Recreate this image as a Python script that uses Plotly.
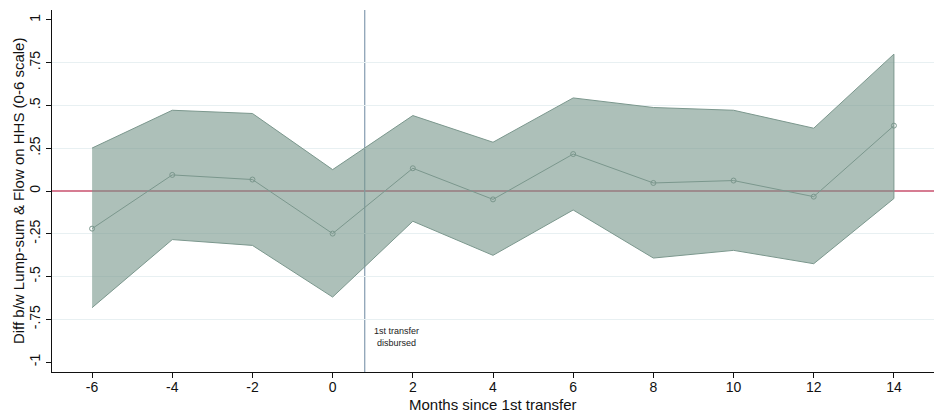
import plotly.graph_objects as go

months = [-6, -4, -2, 0, 2, 4, 6, 8, 10, 12, 14]
estimate = [-0.22, 0.094, 0.067, -0.249, 0.133, -0.049, 0.216, 0.047, 0.061, -0.033, 0.382]
upper = [0.251, 0.472, 0.453, 0.125, 0.441, 0.285, 0.544, 0.488, 0.472, 0.367, 0.80]
lower = [-0.682, -0.284, -0.318, -0.62, -0.177, -0.376, -0.111, -0.392, -0.347, -0.425, -0.044]

x_ticks = [-6, -4, -2, 0, 2, 4, 6, 8, 10, 12, 14]
y_ticks = [-1, -0.75, -0.5, -0.25, 0, 0.25, 0.5, 0.75, 1]
y_tick_labels = ["-1", "-.75", "-.5", "-.25", "0", ".25", ".5", ".75", "1"]
grid_vals = [-0.75, -0.5, -0.25, 0.25, 0.5, 0.75]
transfer_month = 0.8
annot_text = "1st transfer<br>disbursed"
annot_pos = (1.6, -0.855)
x_title = "Months since 1st transfer"
y_title = "Diff b/w Lump-sum & Flow on HHS (0-6 scale)"

FONT = "Liberation Sans, Arial, Helvetica, sans-serif"
edge = "#7b978d"

fig = go.Figure()

fig.add_trace(go.Scatter(
    x=months + months[::-1],
    y=upper + lower[::-1],
    fill="toself",
    fillcolor="rgba(118,150,138,0.60)",
    line=dict(color=edge, width=1),
    mode="lines",
    hoverinfo="skip",
    showlegend=False,
))

fig.add_trace(go.Scatter(
    x=months, y=estimate,
    mode="lines+markers",
    line=dict(color=edge, width=1),
    marker=dict(symbol="circle-open", size=5, color=edge, line=dict(width=1)),
    showlegend=False,
))

fig.add_trace(go.Scatter(x=[months[0]], y=[0], yaxis="y2", mode="markers",
                         marker=dict(opacity=0), showlegend=False, hoverinfo="skip"))

fig.add_shape(type="line", xref="paper", x0=0, x1=1, yref="y", y0=0, y1=0,
              line=dict(color="#c8506e", width=1.6), layer="below")
fig.add_shape(type="line", xref="x", x0=transfer_month, x1=transfer_month,
              yref="paper", y0=0, y1=1,
              line=dict(color="#8ea3b6", width=1.3), layer="below")

fig.add_annotation(x=annot_pos[0], y=annot_pos[1], text=annot_text, showarrow=False,
                   font=dict(family=FONT, size=9, color="#222222"), align="center")

fig.add_annotation(xref="paper", yref="paper", x=0.5, y=-0.091, text=x_title,
                   showarrow=False, xanchor="center", yanchor="middle",
                   font=dict(family=FONT, size=15, color="#111111"))
fig.add_annotation(xref="paper", yref="paper", x=-0.0385, y=0.5, text=y_title,
                   showarrow=False, xanchor="center", yanchor="middle", textangle=-90,
                   font=dict(family=FONT, size=15, color="#111111"))

yr = [-1.058, 1.058]
fig.update_layout(
    width=934, height=412,
    margin=dict(l=52, r=0, t=10, b=40),
    paper_bgcolor="white", plot_bgcolor="white",
    font=dict(family=FONT, size=14, color="#111111"),
    xaxis=dict(
        range=[-7, 15], tickvals=x_ticks, ticktext=[str(v) for v in x_ticks],
        showgrid=False, zeroline=False, automargin=False,
        showline=True, linecolor="#111111", linewidth=1.2,
        ticks="outside", ticklen=5, tickcolor="#111111",
        tickfont=dict(size=14), ticklabelstandoff=-3,
    ),
    yaxis=dict(
        range=yr, tickvals=y_ticks, ticktext=y_tick_labels, tickangle=-90,
        showgrid=False, zeroline=False, automargin=False,
        showline=True, linecolor="#111111", linewidth=1.2,
        ticks="outside", ticklen=5, tickcolor="#111111",
        tickfont=dict(size=14),
    ),
    yaxis2=dict(
        range=yr, overlaying="y", tickvals=grid_vals, showticklabels=False,
        showgrid=True, gridcolor="#e8f0f2", gridwidth=1, zeroline=False,
        showline=False, ticks="", layer="below traces", automargin=False,
    ),
)

fig.write_html(
    "out.html",
    config={"displayModeBar": False},
    post_script="document.body.style.margin='0';document.body.style.overflow='hidden';",
)
